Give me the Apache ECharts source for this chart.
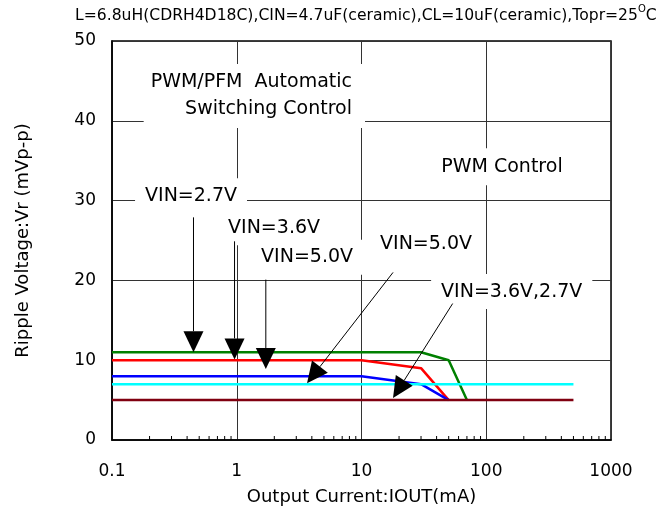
<!DOCTYPE html>
<html>
<head>
<meta charset="utf-8">
<script src="https://cdn.jsdelivr.net/npm/echarts@6/dist/echarts.min.js"></script>
<style>
  html, body { margin: 0; padding: 0; background: #fff; }
  #chart { width: 672px; height: 511px; }
</style>
</head>
<body>
<div id="chart"></div>
<script>
// Ripple voltage vs. output current, one polyline per input voltage / mode.
const iPfm27 = [0.1, 30, 50, 70];      // mA
const vPfm27 = [11, 11, 10, 5];        // mVp-p
const iPfm36 = [0.1, 10, 30, 50];
const vPfm36 = [10, 10, 9, 5];
const iPfm50 = [0.1, 10, 30, 50];
const vPfm50 = [8, 8, 7, 5];
const iPwm50 = [0.1, 500];
const vPwm50 = [7, 7];
const iPwm3627 = [0.1, 500];
const vPwm3627 = [5, 5];

const xTickLabels = ['0.1', '1', '10', '100', '1000'];
const yTickLabels = ['0', '10', '20', '30', '40', '50'];

// Callout texts, placed in data coordinates [current mA, ripple mVp-p]
const calloutTexts = ['VIN=2.7V', 'VIN=3.6V', 'VIN=5.0V', 'VIN=5.0V', 'VIN=3.6V,2.7V'];
const calloutAt = [[0.43, 30.6], [1.99, 26.6], [3.66, 22.9], [32.9, 24.5], [160, 18.6]];
// Arrow start / tip, data coordinates
const arrowFrom = [[0.45, 27.9], [0.96, 24.9], [1.71, 20.1], [17.9, 21.0], [53.8, 17.1]];
const arrowTo   = [[0.45, 11.0], [0.96, 10.1], [1.71, 8.9], [3.66, 7.1], [17.9, 5.25]];

const FONT = 'DejaVu Sans';

function pairs(xs, ys) { return xs.map((x, i) => [x, ys[i]]); }

// minor tick positions 2..9 within every decade of the current axis
const minorTicks = [];
[0.1, 1, 10, 100].forEach(d => { for (let k = 2; k <= 9; k++) minorTicks.push([+(d * k).toPrecision(3), 0]); });

const chart = echarts.init(document.getElementById('chart'), null, { renderer: 'canvas' });

function lineSeries(name, xs, ys, color) {
  return {
    name, type: 'line', data: pairs(xs, ys), symbol: 'none',
    lineStyle: { color, width: 2.5 }, animation: false, z: 3
  };
}

const option = {
  animation: false,
  backgroundColor: '#fff',
  grid: { left: 112, right: 61, top: 41, bottom: 70, show: true, borderColor: '#000', borderWidth: 1.5, backgroundColor: 'transparent' },
  xAxis: {
    type: 'log', logBase: 10, min: 0.1, max: 1000,
    name: 'Output Current:IOUT(mA)', nameLocation: 'middle', nameGap: 48,
    nameTextStyle: { fontFamily: FONT, fontSize: 18, color: '#000' },
    axisLine: { show: true, lineStyle: { color: '#000', width: 1.5 } },
    axisTick: { show: false },
    axisLabel: {
      fontFamily: FONT, fontSize: 17, color: '#000', margin: 23,
      formatter: v => { const i = Math.round(Math.log10(v)) + 1; return xTickLabels[i] !== undefined ? xTickLabels[i] : ''; }
    },
    splitLine: { show: true, lineStyle: { color: '#333', width: 1 } }
  },
  yAxis: {
    type: 'value', min: 0, max: 50, interval: 10,
    name: 'Ripple Voltage:Vr (mVp-p)', nameLocation: 'middle', nameGap: 80,
    nameTextStyle: { fontFamily: FONT, fontSize: 18, color: '#000' },
    axisLine: { show: true, lineStyle: { color: '#000', width: 1.5 } },
    axisTick: { show: false },
    axisLabel: {
      fontFamily: FONT, fontSize: 17, color: '#000', margin: 16,
      formatter: v => yTickLabels[Math.round(v / 10)]
    },
    splitLine: { show: true, lineStyle: { color: '#333', width: 1 } }
  },
  series: [
    lineSeries('VIN=2.7V PFM', iPfm27, vPfm27, '#008000'),
    lineSeries('VIN=3.6V PFM', iPfm36, vPfm36, '#ff0000'),
    lineSeries('VIN=5.0V PFM', iPfm50, vPfm50, '#0000ff'),
    lineSeries('VIN=5.0V PWM', iPwm50, vPwm50, '#00ffff'),
    lineSeries('VIN=3.6V,2.7V PWM', iPwm3627, vPwm3627, '#800010'),
    {
      name: 'minor ticks', type: 'custom', data: minorTicks, silent: true, animation: false, z: 4,
      renderItem: (params, api) => {
        const p = api.coord([api.value(0), 0]);
        return { type: 'line', shape: { x1: p[0], y1: p[1], x2: p[0], y2: p[1] - 4 }, style: { stroke: '#000', lineWidth: 1 } };
      }
    }
  ]
};
chart.setOption(option);

// Annotations: text boxes and arrows, converted from data coordinates
const toPx = p => chart.convertToPixel({ gridIndex: 0 }, p);
const HEAD_LEN = 21, HEAD_HALF = 10;
const graphics = [];

function textBox(text, p, opts) {
  graphics.push(Object.assign({
    type: 'text', x: p[0], y: p[1], z: 10,
    style: Object.assign({
      text, fontFamily: FONT, fontSize: 19, fill: '#000',
      align: 'center', verticalAlign: 'middle', textAlign: 'center', textVerticalAlign: 'middle',
      backgroundColor: '#fff', padding: [8, 9]
    }, opts || {})
  }));
}

// Chart header
graphics.push({
  type: 'text', x: 75, y: 14, z: 10,
  style: {
    text: '{a|L=6.8uH(CDRH4D18C),CIN=4.7uF(ceramic),CL=10uF(ceramic),Topr=25}{s|O}{a|C}',
    verticalAlign: 'middle', textVerticalAlign: 'middle',
    rich: {
      a: { fontFamily: FONT, fontSize: 15.6, color: '#000', lineHeight: 19, verticalAlign: 'bottom' },
      s: { fontFamily: FONT, fontSize: 10, color: '#000', lineHeight: 19, verticalAlign: 'top' }
    }
  }
});

// Region labels
textBox('PWM/PFM  Automatic\nSwitching Control', toPx([10.67, 43.1]), {
  align: 'right', textAlign: 'right', lineHeight: 27, padding: [4, 13, 6, 7]
});
textBox('PWM Control', toPx([133.7, 34.25]), { padding: [9, 6] });

calloutTexts.forEach((t, i) => textBox(t, toPx(calloutAt[i]), { padding: [8, 10, 8, 10] }));

arrowFrom.forEach((a, i) => {
  const p0 = toPx(a), p1 = toPx(arrowTo[i]);
  const dx = p1[0] - p0[0], dy = p1[1] - p0[1], L = Math.hypot(dx, dy);
  const ux = dx / L, uy = dy / L;
  const bx = p1[0] - ux * HEAD_LEN, by = p1[1] - uy * HEAD_LEN;
  graphics.push({ type: 'line', z: 11, shape: { x1: p0[0], y1: p0[1], x2: bx, y2: by }, style: { stroke: '#000', lineWidth: 1 } });
  graphics.push({
    type: 'polygon', z: 11,
    shape: { points: [[p1[0], p1[1]], [bx - uy * HEAD_HALF, by + ux * HEAD_HALF], [bx + uy * HEAD_HALF, by - ux * HEAD_HALF]] },
    style: { fill: '#000' }
  });
});

chart.setOption({ graphic: graphics });
</script>
</body>
</html>
